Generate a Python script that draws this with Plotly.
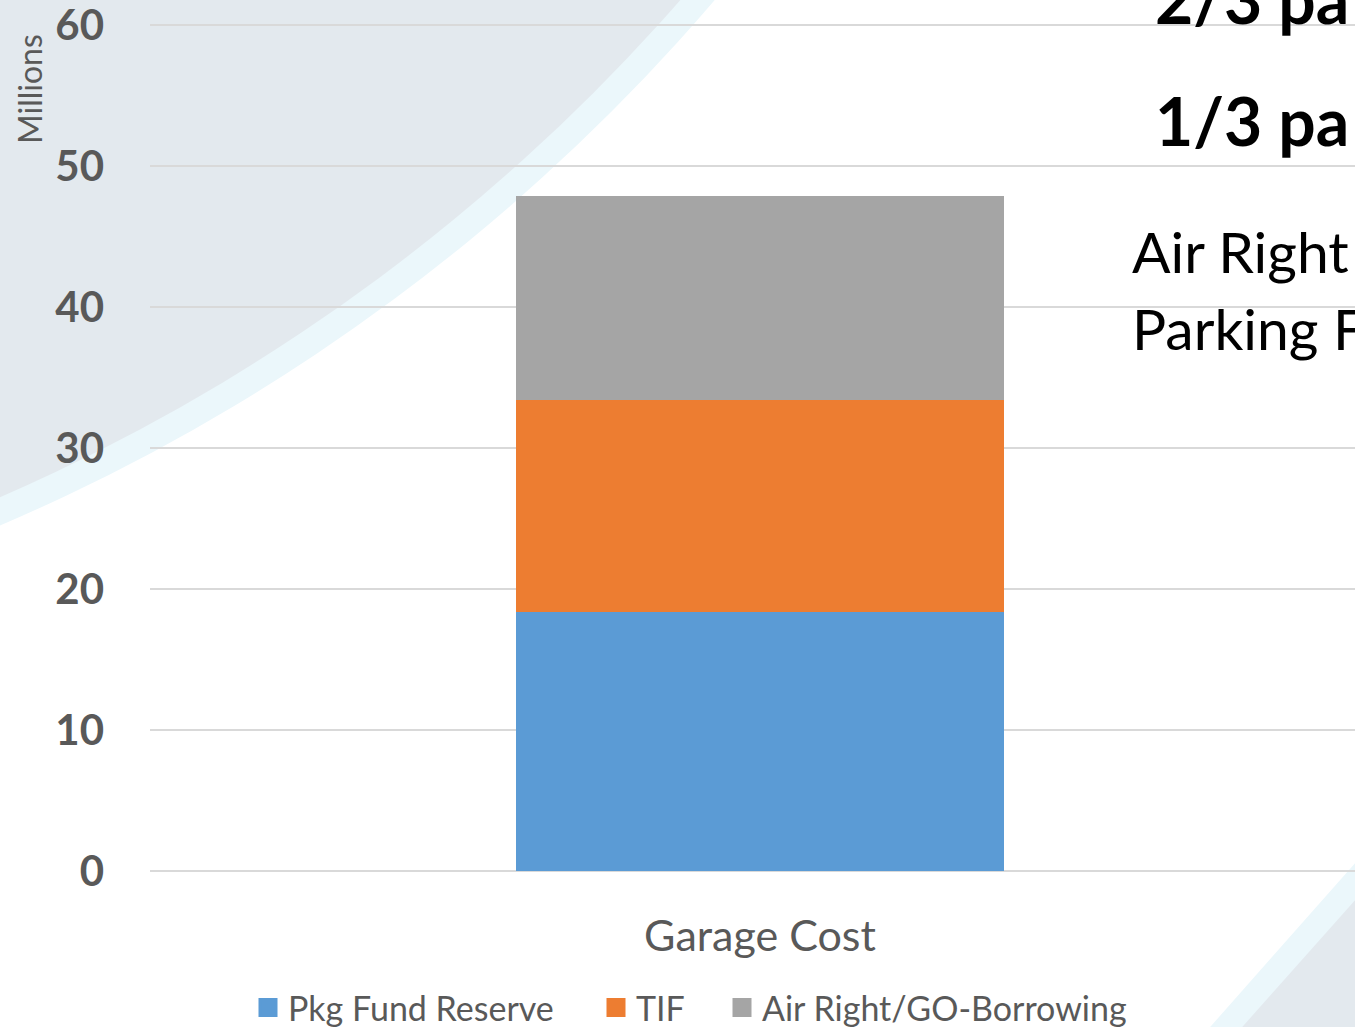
import plotly.graph_objects as go

# data
categories = ["Garage Cost"]
series_names = ["Pkg Fund Reserve", "TIF", "Air Right/GO-Borrowing"]
series_values = [[18.4], [15.0], [14.5]]
series_colors = ["#5b9bd5", "#ed7d31", "#a5a5a5"]
y_ticks = [0, 10, 20, 30, 40, 50, 60]

W, H = 1355, 1027
L, R, T, B = 150, 0, 24, 156
PW, PH = W - L - R, H - T - B


def px(x):
    return (x - L) / PW


def py(y):
    return (H - B - y) / PH


fig = go.Figure()

# one legend box per series so each entry can sit where it does in the original
legend_ids = ["legend", "legend2", "legend3"]
legend_left = [248, 596, 722]

for name, vals, col, lid in zip(series_names, series_values, series_colors, legend_ids):
    fig.add_trace(go.Bar(x=categories, y=vals, name=name, width=0.4,
                         marker=dict(color=col, line=dict(width=0)),
                         showlegend=False))
    # legend proxy with a bigger square
    fig.add_trace(go.Scatter(x=[None], y=[None], mode="markers", name=name, legend=lid,
                             marker=dict(symbol="square", size=16, color=col,
                                         line=dict(color=col, width=3))))

# background decoration (top-left disc, bottom-right corner)
shapes = [
    dict(type="circle", xref="paper", yref="paper", layer="below",
         x0=px(-768 - 1951), x1=px(-768 + 1951), y0=py(-1268 - 1951), y1=py(-1268 + 1951),
         fillcolor="#ebf7fb", line=dict(width=0)),
    dict(type="circle", xref="paper", yref="paper", layer="below",
         x0=px(-768 - 1925), x1=px(-768 + 1925), y0=py(-1268 - 1925), y1=py(-1268 + 1925),
         fillcolor="#e3e9ee", line=dict(width=0)),
    dict(type="path", xref="paper", yref="paper", layer="below",
         path=f"M{px(1196)},{py(1043)} L{px(1380)},{py(835)} L{px(1380)},{py(1043)} Z",
         fillcolor="#ebf7fb", line=dict(width=0)),
    dict(type="path", xref="paper", yref="paper", layer="below",
         path=f"M{px(1228)},{py(1043)} L{px(1380)},{py(872)} L{px(1380)},{py(1043)} Z",
         fillcolor="#e3e9ee", line=dict(width=0)),
]

annotations = [
    dict(text="Millions", x=px(29), y=py(89), xref="paper", yref="paper", textangle=-90,
         xanchor="center", yanchor="middle", showarrow=False,
         font=dict(family="Lato", size=32, color="#595959")),
    dict(text="<b>2/3 pa</b>", x=px(1153), y=py(-2), xref="paper", yref="paper",
         xanchor="left", yanchor="middle", showarrow=False,
         font=dict(family="Lato", size=66, color="#000000")),
    dict(text="<b>1/3 pa</b>", x=px(1153), y=py(121), xref="paper", yref="paper",
         xanchor="left", yanchor="middle", showarrow=False,
         font=dict(family="Lato", size=66, color="#000000")),
    dict(text="Air Right", x=px(1130), y=py(251), xref="paper", yref="paper",
         xanchor="left", yanchor="middle", showarrow=False,
         font=dict(family="Lato", size=57, color="#000000")),
    dict(text="Parking F", x=px(1130), y=py(328), xref="paper", yref="paper",
         xanchor="left", yanchor="middle", showarrow=False,
         font=dict(family="Lato", size=57, color="#000000")),
]

legend_style = dict(orientation="h", xanchor="left", y=py(1008), yanchor="middle",
                    font=dict(family="Lato", size=34, color="#595959"),
                    bgcolor="rgba(0,0,0,0)", borderwidth=0)

fig.update_layout(
    barmode="stack",
    width=W, height=H,
    margin=dict(l=L, r=R, t=T, b=B, pad=0, autoexpand=False),
    paper_bgcolor="white",
    plot_bgcolor="rgba(0,0,0,0)",
    shapes=shapes,
    annotations=annotations,
    showlegend=True,
    legend=dict(x=px(legend_left[0]), **legend_style),
    legend2=dict(x=px(legend_left[1]), **legend_style),
    legend3=dict(x=px(legend_left[2]), **legend_style),
    xaxis=dict(range=[-0.5, 0.4877], showgrid=False, zeroline=False, showline=False,
               ticks="", ticklabelstandoff=36,
               tickfont=dict(family="Lato", size=43, color="#595959")),
    yaxis=dict(range=[0, 60.1], tickvals=y_ticks, showgrid=True, gridcolor="#d9d9d9",
               gridwidth=1.5, zeroline=True, zerolinecolor="#d9d9d9", zerolinewidth=1.5,
               showline=False, ticks="", ticklabelstandoff=45, ticklabeloverflow="allow",
               tickfont=dict(family="Lato", size=42, color="#595959", weight="bold")),
)

fig.write_html("out.html", config={"displayModeBar": False},
               post_script="document.body.style.margin='0';")
